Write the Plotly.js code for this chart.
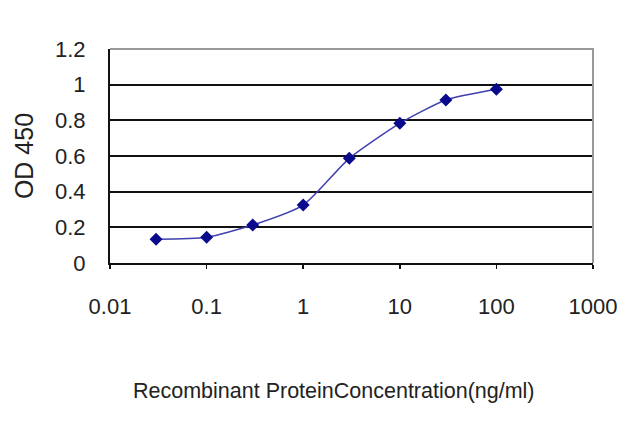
<!DOCTYPE html>
<html>
<head>
<meta charset="utf-8">
<script src="https://cdn.plot.ly/plotly-3.0.1.min.js"></script>
<style>html,body{margin:0;padding:0;background:#fff;}#chart{width:640px;height:427px;}</style>
</head>
<body>
<div id="chart"></div>
<script>
var concentration = [0.03, 0.1, 0.3, 1, 3, 10, 30, 100];
var od450 = [0.133, 0.144, 0.213, 0.325, 0.587, 0.783, 0.914, 0.974];
var xTickVals = [0.01, 0.1, 1, 10, 100, 1000];
var xTickText = ['0.01', '0.1', '1', '10', '100', '1000'];
var yTickVals = [0, 0.2, 0.4, 0.6, 0.8, 1, 1.2];
var yTickText = ['0', '0.2', '0.4', '0.6', '0.8', '1', '1.2'];
var xTitle = 'Recombinant ProteinConcentration(ng/ml)';
var yTitle = 'OD 450';

var fontFam = 'Liberation Sans, Arial, sans-serif';

var trace = {
  x: concentration,
  y: od450,
  type: 'scatter',
  mode: 'lines+markers',
  line: {color: '#4040b0', width: 1.5, shape: 'spline', smoothing: 0.6},
  marker: {symbol: 'diamond', size: 10, color: '#0a0a8c', line: {width: 0}},
  hoverinfo: 'none'
};

var layout = {
  width: 640, height: 427,
  margin: {l: 110, r: 47, t: 49, b: 164},
  paper_bgcolor: '#ffffff',
  plot_bgcolor: '#ffffff',
  showlegend: false,
  font: {family: fontFam, color: '#222222', size: 21},
  xaxis: {
    type: 'log',
    range: [-2, 3],
    tickvals: xTickVals,
    ticktext: xTickText,
    showgrid: false,
    zeroline: false,
    showline: true,
    linecolor: '#111111',
    linewidth: 2,
    ticks: 'outside',
    ticklen: 4,
    tickwidth: 1.5,
    tickcolor: '#111111',
    ticklabelstandoff: 19,
    tickfont: {family: fontFam, size: 22, color: '#222222'},
    automargin: false
  },
  yaxis: {
    range: [0, 1.2],
    tickvals: yTickVals,
    ticktext: yTickText,
    showgrid: true,
    gridcolor: '#111111',
    gridwidth: 2,
    zeroline: false,
    showline: true,
    linecolor: '#111111',
    linewidth: 2,
    ticks: '',
    ticklabelstandoff: 18,
    tickfont: {family: fontFam, size: 22, color: '#222222'},
    automargin: false,
    title: {text: yTitle, font: {family: fontFam, size: 25, color: '#222222'}, standoff: 14}
  },
  annotations: [{
    text: xTitle, xref: 'paper', yref: 'paper',
    x: 0.5, xshift: -18, y: 0, yshift: -128,
    xanchor: 'center', yanchor: 'middle', showarrow: false,
    font: {family: fontFam, size: 21.5, color: '#222222'}
  }],
  shapes: [{
    type: 'path', xref: 'paper', yref: 'paper',
    path: 'M0,1 L1,1 L1,0',
    line: {color: '#999999', width: 2},
    layer: 'above'
  }]
};

Plotly.newPlot('chart', [trace], layout, {staticPlot: true, displayModeBar: false});
</script>
</body>
</html>
